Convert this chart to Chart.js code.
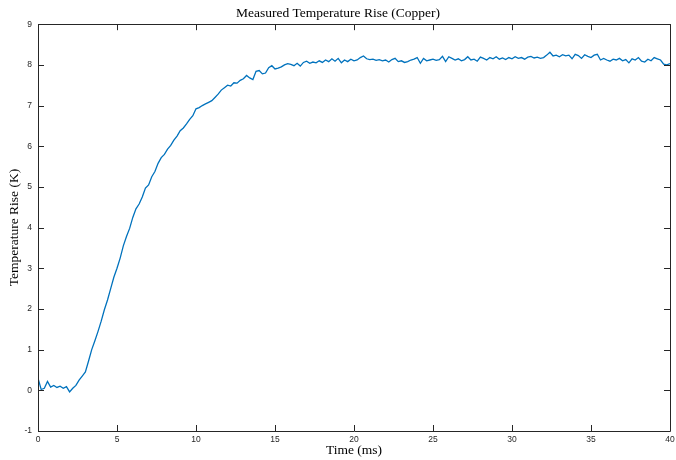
<!DOCTYPE html>
<html>
<head>
<meta charset="utf-8">
<script src="https://cdn.jsdelivr.net/npm/chart.js@4.4.1/dist/chart.umd.min.js"></script>
<style>
html,body{margin:0;padding:0;background:#fff;}
#wrap{width:676px;height:460px;}
</style>
</head>
<body>
<div id="wrap"><canvas id="c" width="676" height="460"></canvas></div>
<script>
const titleText = "Measured Temperature Rise (Copper)";
const xTitle = "Time (ms)";
const yTitle = "Temperature Rise (K)";
const xTicks = [0,5,10,15,20,25,30,35,40];
const yTicks = [-1,0,1,2,3,4,5,6,7,8,9];

const timeMs = [
0.0,0.2,0.4,0.6,0.8,1.0,1.2,1.4,1.6,1.8,
2.0,2.2,2.4,2.6,2.8,3.0,3.2,3.4,3.6,3.8,
4.0,4.2,4.4,4.6,4.8,5.0,5.2,5.4,5.6,5.8,
6.0,6.2,6.4,6.6,6.8,7.0,7.2,7.4,7.6,7.8,
8.0,8.2,8.4,8.6,8.8,9.0,9.2,9.4,9.6,9.8,
10.0,10.2,10.4,10.6,10.8,11.0,11.2,11.4,11.6,11.8,
12.0,12.2,12.4,12.6,12.8,13.0,13.2,13.4,13.6,13.8,
14.0,14.2,14.4,14.6,14.8,15.0,15.2,15.4,15.6,15.8,
16.0,16.2,16.4,16.6,16.8,17.0,17.2,17.4,17.6,17.8,
18.0,18.2,18.4,18.6,18.8,19.0,19.2,19.4,19.6,19.8,
20.0,20.2,20.4,20.6,20.8,21.0,21.2,21.4,21.6,21.8,
22.0,22.2,22.4,22.6,22.8,23.0,23.2,23.4,23.6,23.8,
24.0,24.2,24.4,24.6,24.8,25.0,25.2,25.4,25.6,25.8,
26.0,26.2,26.4,26.6,26.8,27.0,27.2,27.4,27.6,27.8,
28.0,28.2,28.4,28.6,28.8,29.0,29.2,29.4,29.6,29.8,
30.0,30.2,30.4,30.6,30.8,31.0,31.2,31.4,31.6,31.8,
32.0,32.2,32.4,32.6,32.8,33.0,33.2,33.4,33.6,33.8,
34.0,34.2,34.4,34.6,34.8,35.0,35.2,35.4,35.6,35.8,
36.0,36.2,36.4,36.6,36.8,37.0,37.2,37.4,37.6,37.8,
38.0,38.2,38.4,38.6,38.8,39.0,39.2,39.4,39.6,39.8,
40.0
];

const tempRiseK = [
0.30,0.02,0.05,0.22,0.08,0.12,0.07,0.10,0.05,0.09,
-0.04,0.05,0.12,0.25,0.35,0.45,0.72,1.00,1.22,1.45,
1.70,1.98,2.22,2.50,2.78,3.00,3.25,3.55,3.78,3.98,
4.25,4.46,4.58,4.75,4.97,5.05,5.25,5.38,5.58,5.72,
5.80,5.93,6.02,6.15,6.25,6.38,6.45,6.55,6.66,6.75,
6.92,6.95,7.00,7.04,7.08,7.12,7.20,7.28,7.38,7.44,
7.50,7.48,7.56,7.55,7.62,7.66,7.74,7.68,7.64,7.84,
7.86,7.78,7.80,7.93,7.98,7.90,7.92,7.95,8.00,8.03,
8.01,7.98,8.04,7.97,8.06,8.09,8.04,8.07,8.05,8.10,
8.06,8.12,8.08,8.15,8.09,8.16,8.05,8.12,8.08,8.14,
8.10,8.12,8.18,8.22,8.15,8.13,8.14,8.11,8.13,8.10,
8.12,8.07,8.13,8.16,8.08,8.10,8.06,8.08,8.12,8.14,
8.18,8.04,8.16,8.10,8.12,8.14,8.11,8.13,8.21,8.08,
8.20,8.16,8.12,8.15,8.10,8.13,8.20,8.12,8.14,8.09,
8.19,8.16,8.12,8.18,8.15,8.20,8.14,8.17,8.13,8.18,
8.15,8.20,8.16,8.18,8.14,8.19,8.21,8.17,8.19,8.16,
8.18,8.24,8.31,8.22,8.24,8.20,8.25,8.22,8.24,8.15,
8.26,8.23,8.16,8.25,8.21,8.18,8.24,8.26,8.12,8.16,
8.12,8.09,8.14,8.12,8.16,8.10,8.13,8.05,8.15,8.12,
8.18,8.09,8.07,8.14,8.10,8.18,8.15,8.12,8.02,8.00,
8.03
];

const points = timeMs.map((t, i) => ({x: t, y: tempRiseK[i]}));
const axisColor = '#262626';

const boxTicks = {
  id: 'boxTicks',
  afterDraw(chart) {
    const {ctx, chartArea: a, scales: {x, y}} = chart;
    ctx.save();
    ctx.strokeStyle = axisColor;
    ctx.lineWidth = 1;
    ctx.beginPath();
    ctx.rect(Math.round(a.left) + 0.5, Math.round(a.top) + 0.5, Math.round(a.right - a.left), Math.round(a.bottom - a.top));
    ctx.stroke();
    const L = 6;
    ctx.beginPath();
    xTicks.forEach(v => {
      const px = Math.round(x.getPixelForValue(v)) + 0.5;
      ctx.moveTo(px, a.bottom); ctx.lineTo(px, a.bottom - L);
      ctx.moveTo(px, a.top); ctx.lineTo(px, a.top + L);
    });
    yTicks.forEach(v => {
      const py = Math.round(y.getPixelForValue(v)) + 0.5;
      ctx.moveTo(a.left, py); ctx.lineTo(a.left + L, py);
      ctx.moveTo(a.right, py); ctx.lineTo(a.right - L, py);
    });
    ctx.stroke();
    ctx.restore();
  }
};

new Chart(document.getElementById('c'), {
  type: 'line',
  data: {
    datasets: [{
      data: points,
      borderColor: '#0072BD',
      borderWidth: 1.3,
      pointRadius: 0,
      tension: 0,
      fill: false
    }]
  },
  options: {
    responsive: false,
    animation: false,
    devicePixelRatio: 1,
    layout: {padding: {left: 0, right: 0, top: 0, bottom: 0}},
    plugins: {
      legend: {display: false},
      tooltip: {enabled: false},
      title: {
        display: true,
        text: titleText,
        color: '#000',
        font: {family: 'Liberation Serif', size: 13.5, weight: 'normal'},
        padding: {top: 5, bottom: 3}
      }
    },
    scales: {
      x: {
        type: 'linear',
        min: 0, max: 40,
        afterBuildTicks(s) { s.ticks = xTicks.map(v => ({value: v})); },
        afterFit(s) { s.height = 29; s.paddingRight = 6; s.paddingLeft = 0; },
        grid: {display: false, drawTicks: false},
        border: {display: false},
        ticks: {color: axisColor, font: {family: 'Liberation Sans', size: 8.5}, padding: 4, maxRotation: 0, autoSkip: false},
        title: {display: true, text: xTitle, color: '#000', font: {family: 'Liberation Serif', size: 13.5}, padding: {top: 0, bottom: 1}}
      },
      y: {
        type: 'linear',
        min: -1, max: 9,
        afterBuildTicks(s) { s.ticks = yTicks.map(v => ({value: v})); },
        afterFit(s) { s.width = 38; },
        grid: {display: false, drawTicks: false},
        border: {display: false},
        ticks: {color: axisColor, font: {family: 'Liberation Sans', size: 8.5}, padding: 6, autoSkip: false},
        title: {display: true, text: yTitle, color: '#000', font: {family: 'Liberation Serif', size: 13.5}, padding: {top: 6, bottom: 0}}
      }
    }
  },
  plugins: [boxTicks]
});
</script>
</body>
</html>
